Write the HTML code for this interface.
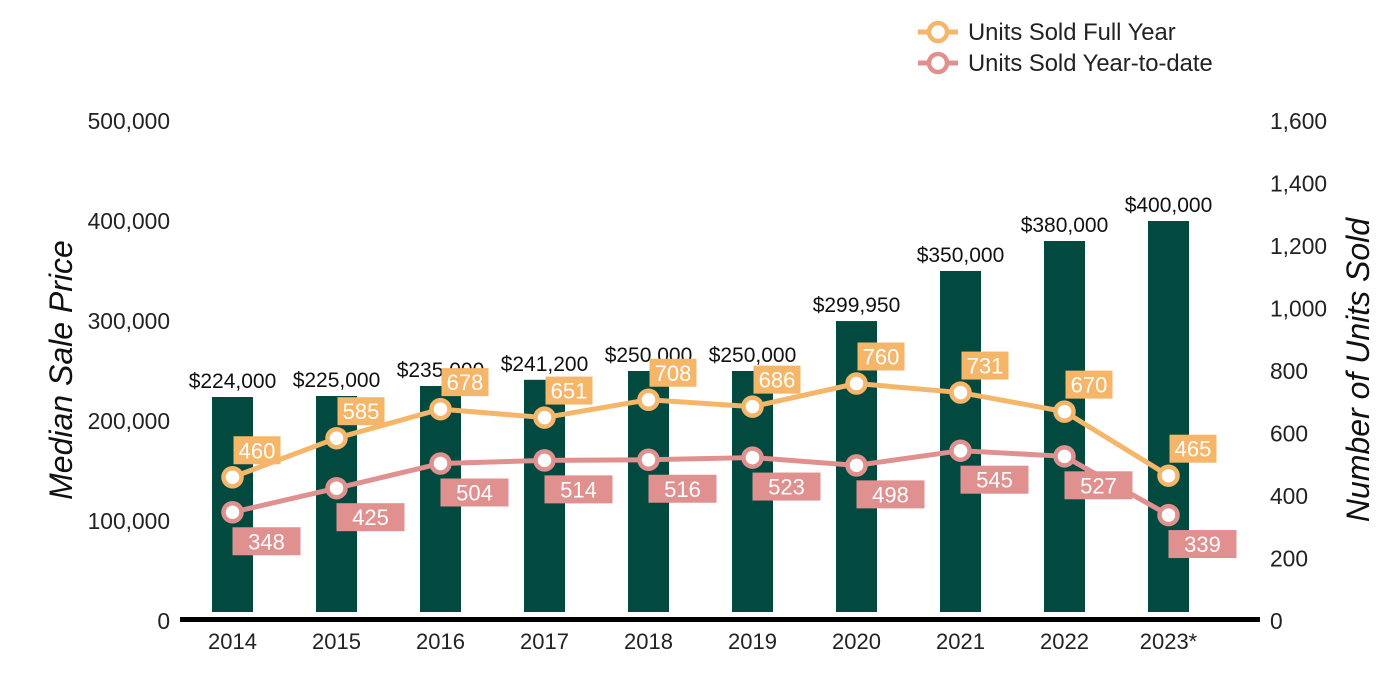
<!DOCTYPE html>
<html><head><meta charset="utf-8"><style>
html,body{margin:0;padding:0;background:#fff;}
svg{display:block;font-family:"Liberation Sans",Arial,sans-serif;}
</style></head><body>
<svg id="chart" width="1400" height="700" viewBox="0 0 1400 700" xmlns="http://www.w3.org/2000/svg">
<g>
  <g>
    <line x1="918" y1="32" x2="958" y2="32" stroke="#f5b66a" stroke-width="5"/>
    <circle cx="938" cy="32" r="9" fill="#fff" stroke="#f5b66a" stroke-width="4.5"/>
    <text x="968" y="40" font-size="23.8" fill="#222">Units Sold Full Year</text>
  </g>
  <g>
    <line x1="918" y1="63" x2="958" y2="63" stroke="#e0908f" stroke-width="5"/>
    <circle cx="938" cy="63" r="9" fill="#fff" stroke="#e0908f" stroke-width="4.5"/>
    <text x="968" y="71" font-size="23.8" fill="#222">Units Sold Year-to-date</text>
  </g>
</g>
<text transform="translate(72,370) rotate(-90)" text-anchor="middle" font-size="32" font-style="italic" fill="#111">Median Sale Price</text>
<text transform="translate(1369,370) rotate(-90)" text-anchor="middle" font-size="32" font-style="italic" fill="#111">Number of Units Sold</text>
<g id="plot"></g>
</svg>
<script>
const categories=["2014","2015","2016","2017","2018","2019","2020","2021","2022","2023*"];
const prices=[224000,225000,235000,241200,250000,250000,299950,350000,380000,400000];
const priceLabels=["$224,000","$225,000","$235,000","$241,200","$250,000","$250,000","$299,950","$350,000","$380,000","$400,000"];
const fullYear=[460,585,678,651,708,686,760,731,670,465];
const ytd=[348,425,504,514,516,523,498,545,527,339];
const leftTicks=[0,100000,200000,300000,400000,500000];
const rightTicks=[0,200,400,600,800,1000,1200,1400,1600];

const NS="http://www.w3.org/2000/svg";
const g=document.getElementById('plot');
const y0=621, yTop=121;
const yL=v=>y0-(v/500000)*(y0-yTop);
const yR=v=>y0-(v/1600)*(y0-yTop);
const xC=i=>232.5+i*104;
const fmt=n=>n.toLocaleString('en-US');
function mk(tag,attrs,text){const e=document.createElementNS(NS,tag);for(const k in attrs)e.setAttribute(k,attrs[k]);if(text!==undefined)e.textContent=text;g.appendChild(e);return e;}

leftTicks.forEach(v=>{const t=mk('text',{x:170,y:yL(v)+8,'text-anchor':'end','font-size':22.8,fill:'#222'},fmt(v));

});
rightTicks.forEach(v=>{const t=mk('text',{x:1270,y:yR(v)+8,'font-size':22.8,fill:'#222'},fmt(v));

});

categories.forEach((c,i)=>{
  const top=yL(prices[i]);
  const b=mk('rect',{x:xC(i)-20.5,y:top,width:41,height:612-top,fill:'#024a40'});
  
  
  const l=mk('text',{x:xC(i),y:top-9,'text-anchor':'middle','font-size':21,fill:'#111'},priceLabels[i]);
  
  
  const xl=mk('text',{x:xC(i),y:649,'text-anchor':'middle','font-size':22,fill:'#222'},c);
  
  
});
const ax=mk('rect',{x:180,y:617,width:1080,height:5,fill:'#000'});



function series(vals,color,name,below){
  const pts=vals.map((v,i)=>xC(i)+','+yR(v)).join(' ');
  const pl=mk('polyline',{points:pts,fill:'none',stroke:color,'stroke-width':5,'stroke-linejoin':'round'});
  
  
  vals.forEach((v,i)=>{
    const cx=xC(i),cy=yR(v);
    const w=below?68:47,bx=cx+(below?0:1),by=below?cy+15:cy-41;
    const r=mk('rect',{x:bx,y:by,width:w,height:28,fill:color});
    
    
    const t=mk('text',{x:bx+w/2,y:by+22,'text-anchor':'middle','font-size':22,fill:'#fff'},String(v));
    
    
  });
  vals.forEach((v,i)=>{
    const p=mk('circle',{cx:xC(i),cy:yR(v),r:9,fill:'#fff',stroke:color,'stroke-width':4.5});
    
    
  });
}
series(fullYear,'#f5b66a','full-year',false);
series(ytd,'#e0908f','ytd',true);
</script>
</body></html>
